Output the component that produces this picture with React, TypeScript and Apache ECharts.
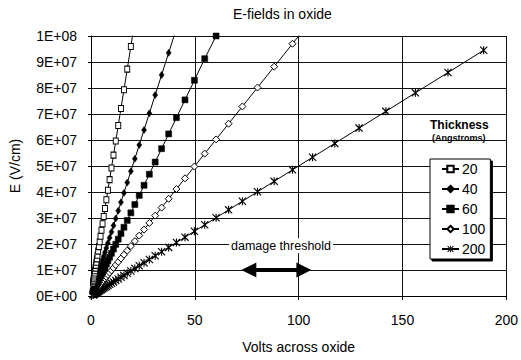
import React, { useEffect, useRef } from 'react';
import * as echarts from 'echarts';

// Shared voltage steps (V)
const volts = [1, 1.1, 1.21, 1.331, 1.464, 1.611, 1.772, 1.949, 2.144, 2.358, 2.594, 2.853, 3.138, 3.452, 3.797, 4.177, 4.595, 5.054, 5.56, 6.116, 6.727, 7.4, 8.14, 8.954, 9.85, 10.83, 11.92, 13.11, 14.42, 15.86, 17.45, 19.19, 21.11, 23.23, 25.55, 28.1, 30.91, 34.0, 37.4, 41.14, 45.26, 49.79, 54.76, 60.24, 66.26, 72.89, 80.18, 88.2, 97.02, 106.7, 117.4, 129.1, 142.0, 156.2, 171.9, 189.1];

// Field in MV/cm for each oxide thickness (Angstroms)
const e20 = [5.0, 5.5, 6.05, 6.66, 7.32, 8.05, 8.86, 9.74, 10.72, 11.79, 12.97, 14.27, 15.69, 17.26, 18.99, 20.89, 22.98, 25.27, 27.8, 30.58, 33.64, 37.0, 40.7, 44.77, 49.25, 54.17, 59.59, 65.55, 72.1, 79.32, 87.25, 95.97, 105.6];
const e40 = [2.5, 2.75, 3.03, 3.33, 3.66, 4.03, 4.43, 4.87, 5.36, 5.89, 6.48, 7.13, 7.85, 8.63, 9.49, 10.44, 11.49, 12.64, 13.9, 15.29, 16.82, 18.5, 20.35, 22.39, 24.62, 27.09, 29.8, 32.78, 36.05, 39.66, 43.62, 47.98, 52.78, 58.06, 63.87, 70.26, 77.28, 85.01, 93.51, 102.9];
const e60 = [1.67, 1.83, 2.02, 2.22, 2.44, 2.68, 2.95, 3.25, 3.57, 3.93, 4.32, 4.76, 5.23, 5.75, 6.33, 6.96, 7.66, 8.42, 9.27, 10.19, 11.21, 12.33, 13.57, 14.92, 16.42, 18.06, 19.86, 21.85, 24.04, 26.44, 29.08, 31.99, 35.19, 38.71, 42.58, 46.84, 51.52, 56.67, 62.34, 68.58, 75.43, 82.98, 91.27, 100.0];
const e100 = [1.0, 1.1, 1.21, 1.33, 1.46, 1.61, 1.77, 1.95, 2.14, 2.36, 2.59, 2.85, 3.14, 3.45, 3.8, 4.18, 4.6, 5.05, 5.56, 6.12, 6.73, 7.4, 8.14, 8.95, 9.85, 10.83, 11.92, 13.11, 14.42, 15.86, 17.45, 19.19, 21.11, 23.23, 25.55, 28.1, 30.91, 34.0, 37.4, 41.14, 45.26, 49.79, 54.76, 60.24, 66.26, 72.89, 80.18, 88.2, 97.02, 106.7];
const e200 = [0.5, 0.55, 0.61, 0.67, 0.73, 0.81, 0.89, 0.97, 1.07, 1.18, 1.3, 1.43, 1.57, 1.73, 1.9, 2.09, 2.3, 2.53, 2.78, 3.06, 3.36, 3.7, 4.07, 4.48, 4.93, 5.42, 5.96, 6.56, 7.21, 7.93, 8.73, 9.6, 10.56, 11.61, 12.77, 14.05, 15.46, 17.0, 18.7, 20.57, 22.63, 24.89, 27.38, 30.12, 33.13, 36.45, 40.09, 44.1, 48.51, 53.36, 58.7, 64.57, 71.02, 78.13, 85.94, 94.53];

const thicknessNames = ['20', '40', '60', '100', '200'];

// Damage threshold annotation (volts range, field in MV/cm)
const thresholdVolts = [76, 102.5];
const thresholdField = 10.0;
const thresholdLabelPos = [91.5, 19.3];

const FONT = "'Liberation Sans', Arial, sans-serif";
const ASTERISK = 'path://M4.3,0L5.7,0L5.7,10L4.3,10Z M0,1L1,0L10,9L9,10Z M9,0L10,1L1,10L0,9Z';

function fmtE(v: number) {
  if (v === 0) return '0E+00';
  const x = v * 1e6;
  const exp = Math.floor(Math.log10(x) + 1e-9);
  const m = Math.round(x / Math.pow(10, exp));
  return `${m}E+${String(exp).padStart(2, '0')}`;
}

function pairs(arr: number[]) {
  return arr.map((e, i) => [volts[i], e]);
}

export default function App() {
  const ref = useRef<HTMLDivElement>(null);
  useEffect(() => {
    document.body.style.margin = '0';
    const chart = echarts.init(ref.current!, null, { renderer: 'svg' });
    const base = {
      type: 'line' as const,
      clip: true,
      lineStyle: { color: '#000', width: 1 },
      emphasis: { disabled: true },
    };
    const option: any = {
      animation: false,
      backgroundColor: '#fff',
      textStyle: { fontFamily: FONT },
      title: {
        text: 'E-fields in oxide',
        left: 233,
        top: 7,
        padding: 0,
        textStyle: { fontSize: 14, fontWeight: 'normal', color: '#000', fontFamily: FONT },
      },
      grid: { left: 91, right: 12, top: 36, bottom: 64, containLabel: false },
      xAxis: {
        type: 'value',
        min: 0,
        max: 200,
        interval: 50,
        name: 'Volts across oxide',
        nameLocation: 'middle',
        nameGap: 44,
        nameTextStyle: { fontSize: 14, color: '#000', fontFamily: FONT },
        axisLine: { show: true, lineStyle: { color: '#000', width: 1 } },
        axisTick: { show: true, length: 4, lineStyle: { color: '#000' } },
        axisLabel: { fontSize: 14, color: '#000', margin: 17, fontFamily: FONT },
        splitLine: { show: true, lineStyle: { color: '#111', width: 1 } },
      },
      yAxis: {
        type: 'value',
        min: 0,
        max: 100,
        interval: 10,
        name: 'E (V/cm)',
        nameLocation: 'middle',
        nameGap: 69,
        nameTextStyle: { fontSize: 14, color: '#000', fontFamily: FONT },
        axisLine: { show: true, lineStyle: { color: '#000', width: 1 } },
        axisTick: { show: true, length: 3, lineStyle: { color: '#000' } },
        axisLabel: { fontSize: 14, color: '#000', margin: 14, formatter: fmtE, fontFamily: FONT },
        splitLine: { show: true, lineStyle: { color: '#111', width: 1 } },
      },
      legend: {
        orient: 'vertical',
        left: 430,
        top: 159,
        padding: [3, 5, 3, 11],
        itemWidth: 17,
        itemHeight: 8,
        itemGap: 6,
        selectedMode: false,
        backgroundColor: '#fff',
        borderColor: '#000',
        borderWidth: 1,
        shadowColor: '#000',
        shadowOffsetX: 2,
        shadowOffsetY: 2,
        shadowBlur: 0,
        textStyle: { fontSize: 14, color: '#000', fontFamily: FONT, padding: [0, 0, 0, -2] },
        data: thicknessNames,
      },
      graphic: [
        {
          type: 'text',
          left: 430,
          top: 119,
          style: { text: 'Thickness', fontSize: 12, fontWeight: 'bold', fill: '#000', fontFamily: FONT },
        },
        {
          type: 'text',
          left: 432,
          top: 133,
          style: { text: '(Angstroms)', fontSize: 9, fontWeight: 'bold', fill: '#000', fontFamily: FONT },
        },
      ],
      series: [
        {
          ...base,
          name: thicknessNames[0],
          data: pairs(e20),
          symbol: 'rect',
          symbolSize: [5, 6],
          itemStyle: { color: '#fff', borderColor: '#000', borderWidth: 1 },
          z: 5,
        },
        {
          ...base,
          name: thicknessNames[1],
          data: pairs(e40),
          symbol: 'diamond',
          symbolSize: [5, 7],
          itemStyle: { color: '#000', borderColor: '#000', borderWidth: 0.5 },
          z: 4,
        },
        {
          ...base,
          name: thicknessNames[2],
          data: pairs(e60),
          symbol: 'rect',
          symbolSize: 6,
          itemStyle: { color: '#000', borderColor: '#000', borderWidth: 0.5 },
          z: 3,
        },
        {
          ...base,
          name: thicknessNames[3],
          data: pairs(e100),
          symbol: 'diamond',
          symbolSize: 7,
          itemStyle: { color: '#fff', borderColor: '#000', borderWidth: 1 },
          z: 2,
        },
        {
          ...base,
          name: thicknessNames[4],
          data: pairs(e200),
          symbol: ASTERISK,
          symbolSize: 8,
          itemStyle: { color: '#000', borderWidth: 0 },
          z: 1,
          markLine: {
            silent: true,
            symbol: ['triangle', 'triangle'],
            symbolSize: 15,
            label: { show: false },
            lineStyle: { color: '#000', width: 4, type: 'solid' },
            data: [[{ coord: [thresholdVolts[0], thresholdField] }, { coord: [thresholdVolts[1], thresholdField] }]],
          },
          markPoint: {
            silent: true,
            symbol: 'rect',
            symbolSize: 1,
            itemStyle: { color: 'rgba(0,0,0,0)' },
            label: {
              show: true,
              position: 'inside',
              formatter: 'damage threshold',
              color: '#000',
              fontSize: 12.5,
              fontFamily: FONT,
              backgroundColor: '#fff',
              padding: [1, 2],
            },
            data: [{ coord: thresholdLabelPos }],
          },
        },
      ],
    };
    chart.setOption(option);
    return () => chart.dispose();
  }, []);
  return (
    <div
      ref={ref}
      style={{ position: 'absolute', left: 0, top: 0, width: 521, height: 360, background: '#fff' }}
    />
  );
}
